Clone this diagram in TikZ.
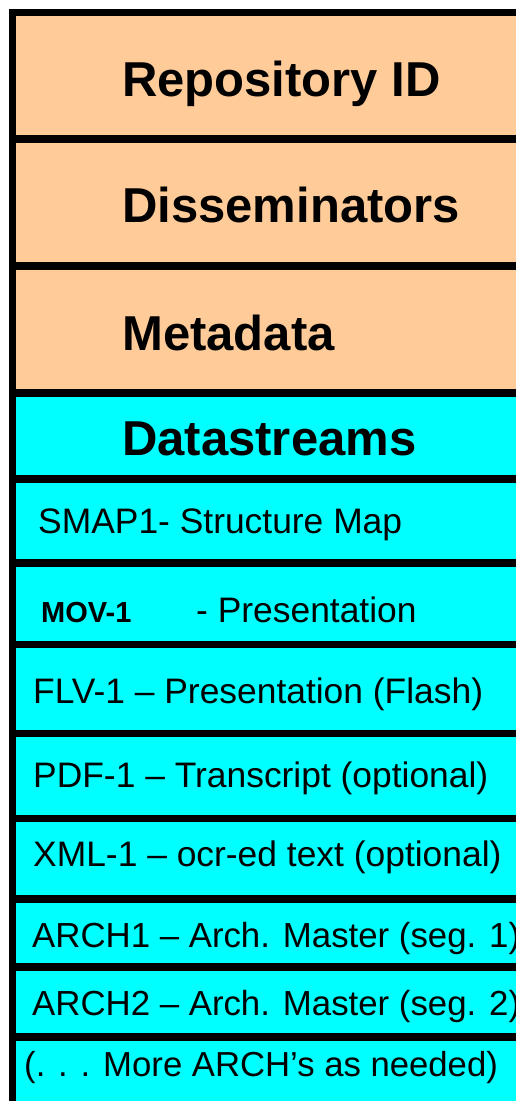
\documentclass[tikz,border=0pt]{standalone}
\usepackage{fontspec}
\setmainfont{Liberation Sans}
\definecolor{peach}{HTML}{FFCC99}
\definecolor{aqua}{HTML}{00FFFF}
\begin{document}
\begin{tikzpicture}[x=1pt,y=-1pt,
  title/.style={anchor=base west, inner sep=0pt, font=\fontsize{49}{51}\selectfont\bfseries},
  entry/.style={anchor=base west, inner sep=0pt, font=\fontsize{35.4}{38}\selectfont},
  archentry/.style={anchor=base west, inner sep=0pt, font=\fontsize{34.8}{37}\selectfont},
  smallbold/.style={anchor=base west, inner sep=0pt, font=\fontsize{29}{31}\selectfont\bfseries},
  rule/.style={line width=7.5pt}]
\useasboundingbox (0,0) rectangle (516,1101);
\fill[white] (0,0) rectangle (516,1101);
\fill[peach] (12,12) rectangle (516,393);
\fill[aqua] (12,393) rectangle (516,1101);
% rules
\foreach \y in {139,266,393,479,563,644.5,733.5,818.5,899,967,1037}
  \draw[rule] (9,\y) -- (516,\y);
\draw[rule] (9,12.7) -- (516,12.7);
\draw[rule] (12.7,9) -- (12.7,1101);
% texts
\node[title] (repo) at (122,96) {Repository ID};
\node[title] (diss) at (122,222) {Disseminators};
\node[title] (meta) at (122,350) {Metadata};
\node[title] (ds) at (122,455) {Datastreams};
\node[entry] (smap) at (38,533.5) {SMAP1- Structure Map};
\node[smallbold] (mov) at (41,622.5) {MOV-1};
\node[entry] (movp) at (196,622) {- Presentation};
\node[entry] (flv) at (33,703) {FLV-1 – Presentation (Flash)};
\node[entry] (pdf) at (33,787.5) {PDF-1 – Transcript (optional)};
\node[entry] (xml) at (33,866) {XML-1 – ocr-ed text (optional)};
\node[archentry] (arch1) at (32,947) {ARCH1 – Arch. Master (seg. 1)};
\node[archentry] (arch2) at (32,1015) {ARCH2 – Arch. Master (seg. 2)};
\node[entry, font=\fontsize{34.7}{37}\selectfont] (more) at (24,1076) {(. . . More ARCH’s as needed)};
\end{tikzpicture}
\end{document}
